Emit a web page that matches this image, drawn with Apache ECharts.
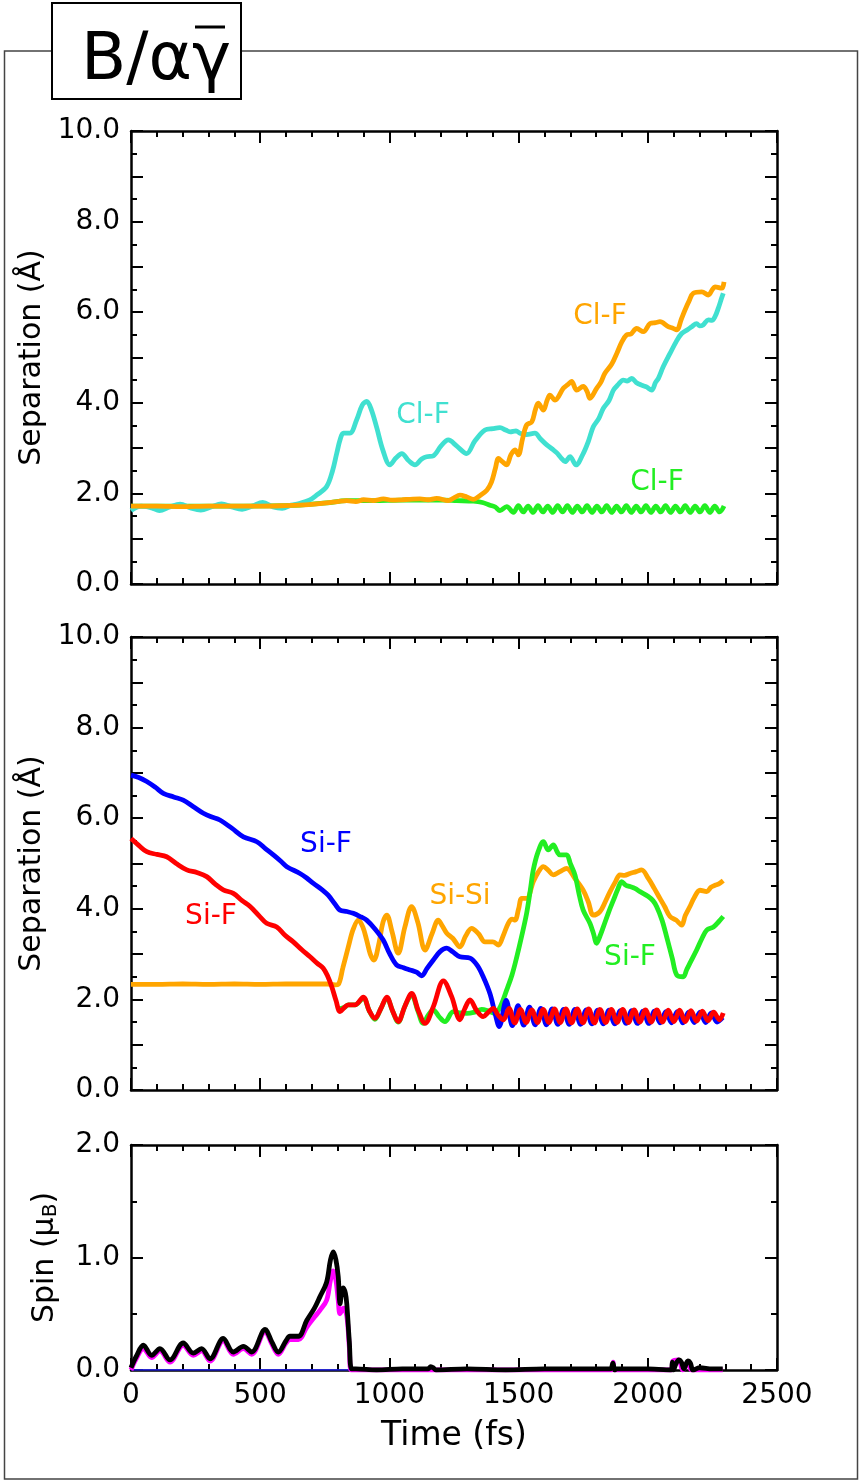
<!DOCTYPE html>
<html>
<head>
<meta charset="utf-8">
<script src="https://cdn.jsdelivr.net/npm/echarts@6/dist/echarts.min.js"></script>
<style>html,body{margin:0;padding:0;background:#fff}#c{width:864px;height:1484px}</style>
</head>
<body>
<div id="c"></div>
<script>
// ---------- data ----------
const xTickValues = [0, 500, 1000, 1500, 2000, 2500];

const clfCyan = [[0,1.62],[40,1.72],[80,1.68],[110,1.62],[150,1.70],[190,1.76],[230,1.68],[270,1.63],[310,1.70],[350,1.77],[390,1.70],[430,1.65],[470,1.72],[510,1.80],[550,1.70],[585,1.67],[620,1.74],[654,1.78],[690,1.85],[718,1.96],[757,2.15],[780,2.5],[796,2.88],[810,3.2],[822,3.33],[847,3.33],[873,3.62],[895,3.95],[912,4.03],[930,3.85],[951,3.45],[975,2.95],[1002,2.63],[1025,2.78],[1048,2.88],[1075,2.72],[1099,2.63],[1125,2.76],[1144,2.81],[1170,2.83],[1200,3.05],[1228,3.18],[1260,3.05],[1299,2.88],[1330,3.15],[1370,3.40],[1400,3.43],[1428,3.45],[1450,3.40],[1467,3.36],[1490,3.38],[1505,3.33],[1530,3.30],[1563,3.33],[1585,3.20],[1609,3.07],[1630,2.98],[1647,2.90],[1665,2.78],[1680,2.70],[1699,2.81],[1722,2.63],[1750,2.88],[1770,3.15],[1789,3.47],[1810,3.65],[1828,3.88],[1850,4.05],[1867,4.28],[1885,4.40],[1905,4.50],[1920,4.48],[1938,4.54],[1955,4.45],[1976,4.39],[1995,4.35],[2015,4.28],[2030,4.45],[2041,4.54],[2060,4.80],[2086,5.09],[2110,5.35],[2131,5.53],[2155,5.62],[2170,5.68],[2189,5.75],[2200,5.70],[2214,5.72],[2234,5.83],[2248,5.82],[2260,5.90],[2273,6.09],[2285,6.30],[2292,6.42]];

const clfOrange = [[0,1.72],[100,1.72],[200,1.71],[300,1.72],[400,1.72],[500,1.72],[600,1.73],[650,1.74],[700,1.76],[757,1.79],[800,1.82],[835,1.84],[870,1.82],[900,1.86],[938,1.84],[977,1.88],[1010,1.85],[1050,1.86],[1080,1.87],[1118,1.88],[1150,1.86],[1183,1.89],[1228,1.84],[1250,1.90],[1273,1.96],[1300,1.92],[1325,1.87],[1350,1.95],[1377,2.07],[1395,2.25],[1410,2.55],[1422,2.77],[1437,2.70],[1454,2.63],[1470,2.85],[1486,2.96],[1499,2.85],[1515,3.20],[1531,3.51],[1551,3.58],[1565,3.85],[1576,3.99],[1596,3.84],[1610,4.05],[1621,4.17],[1641,4.06],[1673,4.32],[1690,4.40],[1705,4.47],[1725,4.28],[1750,4.36],[1765,4.25],[1776,4.10],[1802,4.32],[1818,4.45],[1834,4.65],[1860,4.85],[1880,5.09],[1900,5.35],[1918,5.50],[1935,5.52],[1957,5.64],[1983,5.57],[2009,5.75],[2030,5.77],[2047,5.79],[2079,5.68],[2095,5.65],[2112,5.61],[2130,5.85],[2144,6.05],[2160,6.25],[2176,6.42],[2209,6.45],[2234,6.38],[2250,6.50],[2260,6.56],[2286,6.53],[2295,6.67]];

const clfGreen = [[0,1.72],[300,1.72],[600,1.73],[757,1.79],[835,1.84],[938,1.84],[1050,1.85],[1157,1.85],[1210,1.85],[1260,1.84],[1325,1.83],[1360,1.80],[1389,1.74],[1410,1.70],[1428,1.62],[1454,1.71],[1480,1.58],[1499,1.73],[1518,1.59],[1537,1.72],[1556,1.58],[1575,1.73],[1594,1.59],[1613,1.72],[1632,1.58],[1651,1.73],[1670,1.59],[1689,1.73],[1708,1.58],[1727,1.72],[1746,1.59],[1765,1.73],[1784,1.58],[1803,1.72],[1822,1.59],[1841,1.73],[1860,1.58],[1879,1.72],[1898,1.59],[1917,1.73],[1936,1.58],[1955,1.72],[1974,1.59],[1993,1.73],[2012,1.58],[2031,1.72],[2050,1.59],[2069,1.73],[2088,1.58],[2107,1.72],[2126,1.59],[2145,1.73],[2164,1.58],[2183,1.72],[2202,1.59],[2221,1.73],[2240,1.58],[2259,1.72],[2278,1.59],[2295,1.72]];

const sifBlue = [[0,6.95],[30,6.90],[61,6.81],[95,6.68],[125,6.55],[165,6.47],[202,6.40],[240,6.26],[280,6.11],[310,6.03],[344,5.96],[390,5.78],[435,5.59],[487,5.48],[520,5.33],[551,5.19],[580,5.05],[603,4.93],[654,4.78],[680,4.68],[706,4.56],[740,4.42],[763,4.30],[790,4.10],[809,3.97],[835,3.94],[860,3.90],[890,3.82],[912,3.75],[945,3.55],[976,3.31],[1000,3.02],[1028,2.76],[1055,2.70],[1080,2.65],[1105,2.60],[1125,2.52],[1145,2.68],[1170,2.87],[1195,3.05],[1222,3.13],[1245,3.05],[1273,2.94],[1312,2.91],[1340,2.75],[1363,2.50],[1389,2.13],[1409,1.69],[1425,1.40],[1452,1.98],[1476,1.42],[1498,1.86],[1520,1.43],[1542,1.83],[1564,1.44],[1586,1.80],[1608,1.44],[1630,1.79],[1652,1.45],[1674,1.78],[1696,1.45],[1718,1.78],[1740,1.45],[1762,1.77],[1784,1.46],[1806,1.76],[1828,1.46],[1850,1.76],[1872,1.46],[1894,1.75],[1916,1.47],[1938,1.75],[1960,1.47],[1982,1.74],[2004,1.47],[2026,1.74],[2048,1.48],[2070,1.73],[2092,1.48],[2114,1.73],[2136,1.48],[2158,1.72],[2180,1.49],[2202,1.72],[2224,1.49],[2246,1.70],[2268,1.50],[2290,1.60]];

const sifRed = [[0,5.55],[30,5.40],[61,5.26],[100,5.20],[138,5.15],[175,5.00],[216,4.86],[255,4.80],[293,4.71],[325,4.55],[357,4.42],[396,4.34],[430,4.18],[461,4.05],[495,3.85],[525,3.68],[564,3.60],[595,3.42],[628,3.27],[660,3.10],[693,2.94],[720,2.80],[744,2.69],[762,2.50],[777,2.28],[793,1.98],[809,1.73],[825,1.82],[841,1.88],[867,1.88],[899,2.05],[922,1.75],[944,1.58],[967,1.80],[990,2.05],[1012,1.75],[1034,1.51],[1060,1.85],[1086,2.13],[1112,1.75],[1138,1.47],[1170,1.84],[1209,2.41],[1241,2.06],[1273,1.55],[1292,1.80],[1312,1.99],[1338,1.75],[1363,1.62],[1383,1.72],[1402,1.80],[1421,1.65],[1441,1.55],[1463,1.80],[1485,1.48],[1507,1.78],[1529,1.49],[1551,1.77],[1573,1.49],[1595,1.78],[1617,1.49],[1639,1.79],[1661,1.49],[1683,1.79],[1705,1.48],[1727,1.79],[1749,1.48],[1771,1.79],[1793,1.48],[1815,1.78],[1837,1.49],[1859,1.78],[1881,1.49],[1903,1.78],[1925,1.49],[1947,1.77],[1969,1.50],[1991,1.77],[2013,1.50],[2035,1.77],[2057,1.50],[2079,1.76],[2101,1.51],[2123,1.76],[2145,1.51],[2167,1.75],[2189,1.52],[2211,1.74],[2233,1.53],[2255,1.72],[2277,1.55],[2292,1.70]];

const sifGreen = [[800,1.78],[825,1.82],[841,1.88],[867,1.88],[899,2.03],[922,1.75],[944,1.56],[967,1.80],[990,2.03],[1012,1.75],[1034,1.50],[1060,1.85],[1086,2.10],[1110,1.75],[1131,1.47],[1150,1.65],[1170,1.77],[1192,1.62],[1215,1.51],[1247,1.73],[1275,1.70],[1299,1.69],[1330,1.72],[1357,1.78],[1385,1.74],[1409,1.69],[1430,1.85],[1454,2.21],[1475,2.55],[1493,2.94],[1512,3.40],[1531,3.90],[1545,4.40],[1557,4.86],[1575,5.25],[1596,5.48],[1615,5.30],[1634,5.41],[1650,5.25],[1660,5.19],[1686,5.19],[1700,5.00],[1718,4.75],[1735,4.30],[1750,3.97],[1776,3.68],[1790,3.45],[1802,3.24],[1815,3.40],[1828,3.60],[1850,3.95],[1867,4.19],[1885,4.45],[1899,4.60],[1915,4.52],[1931,4.49],[1950,4.45],[1970,4.38],[2002,4.27],[2020,4.18],[2034,4.05],[2055,3.75],[2073,3.38],[2095,2.90],[2112,2.54],[2137,2.50],[2150,2.65],[2163,2.80],[2189,3.09],[2210,3.35],[2228,3.53],[2254,3.60],[2275,3.72],[2292,3.83]];

const sisiOrange = [[0,2.33],[100,2.33],[200,2.34],[300,2.33],[400,2.34],[500,2.33],[600,2.34],[700,2.34],[760,2.34],[790,2.32],[802,2.33],[820,2.70],[841,3.16],[860,3.55],[880,3.75],[897,3.60],[912,3.31],[926,3.00],[940,2.87],[960,3.25],[975,3.70],[990,3.86],[1010,3.50],[1034,3.02],[1060,3.60],[1086,4.05],[1110,3.70],[1138,3.09],[1165,3.45],[1189,3.75],[1205,3.62],[1222,3.46],[1245,3.35],[1273,3.16],[1295,3.40],[1318,3.57],[1345,3.45],[1370,3.27],[1400,3.27],[1422,3.20],[1440,3.40],[1460,3.68],[1475,3.77],[1486,3.75],[1500,4.00],[1512,4.23],[1531,4.23],[1557,4.60],[1575,4.80],[1596,4.93],[1615,4.85],[1634,4.75],[1660,4.82],[1686,4.89],[1718,4.67],[1750,4.41],[1770,4.15],[1789,3.86],[1815,3.94],[1835,4.15],[1854,4.38],[1875,4.60],[1892,4.75],[1910,4.74],[1931,4.78],[1955,4.82],[1976,4.86],[2002,4.67],[2025,4.45],[2047,4.23],[2065,4.05],[2086,3.83],[2110,3.75],[2131,3.64],[2145,3.85],[2163,4.05],[2180,4.25],[2202,4.41],[2228,4.38],[2245,4.48],[2260,4.52],[2275,4.55],[2292,4.62]];

const spinTotal = [[0,0.02],[20,0.12],[48,0.22],[80,0.13],[112,0.19],[151,0.09],[202,0.24],[241,0.15],[273,0.19],[306,0.10],[357,0.28],[396,0.16],[435,0.21],[467,0.16],[519,0.36],[545,0.25],[570,0.16],[600,0.26],[615,0.30],[648,0.30],[680,0.44],[710,0.55],[731,0.65],[757,0.78],[772,0.98],[783,1.05],[793,0.98],[802,0.83],[809,0.59],[816,0.70],[822,0.73],[830,0.68],[835,0.59],[845,0.25],[854,0.01],[870,0.01],[950,0.0],[1050,0.01],[1150,0.01],[1160,0.03],[1170,0.02],[1180,0.0],[1300,0.01],[1450,0.0],[1600,0.01],[1750,0.01],[1855,0.01],[1865,0.06],[1872,0.0],[1880,0.01],[2000,0.01],[2090,0.0],[2095,0.07],[2100,0.0],[2108,0.05],[2120,0.09],[2130,0.07],[2140,0.01],[2155,0.08],[2165,0.06],[2175,0.0],[2200,0.02],[2250,0.01],[2290,0.01]];

const spinMagenta = [[0,0.0],[20,0.10],[48,0.19],[80,0.11],[112,0.17],[151,0.07],[202,0.22],[241,0.13],[273,0.17],[306,0.08],[357,0.26],[396,0.14],[435,0.19],[467,0.14],[519,0.34],[545,0.23],[570,0.14],[600,0.24],[615,0.27],[648,0.27],[680,0.38],[710,0.47],[731,0.53],[757,0.62],[772,0.80],[783,0.88],[793,0.80],[802,0.62],[809,0.50],[822,0.55],[835,0.48],[845,0.20],[852,0.0],[1000,0.0],[1860,0.0],[1866,0.07],[1872,0.0],[2092,0.0],[2097,0.08],[2120,0.09],[2135,0.0],[2155,0.07],[2170,0.0],[2290,0.0]];

const spinBlue = [[0,0],[850,0]];

// ---------- chart ----------
const FONT = 'DejaVu Sans';
const chart = echarts.init(document.getElementById('c'));

const grids = [
  {left:131, top:131, width:646, height:453},
  {left:131, top:637, width:646, height:453},
  {left:131, top:1145, width:646, height:225}
];

const tickStyle = {color:'#000', width:2};
function xAxisDef(gi, pos, labels, name) {
  return {
    type:'value', gridIndex:gi, position:pos, min:0, max:2500, interval:500,
    axisLine:{show:true, onZero:false, lineStyle:{color:'#000', width:2.5}},
    axisTick:{show:true, inside:true, length:12, lineStyle:tickStyle},
    minorTick:{show:true, splitNumber:5, length:6, lineStyle:tickStyle},
    splitLine:{show:false},
    axisLabel:{show:labels, color:'#000', fontSize:28, fontFamily:FONT, margin:12,
      formatter: function(v){ return String(Math.round(v)); }},
    name: name || '', nameLocation:'middle', nameGap:50,
    nameTextStyle:{color:'#000', fontSize:33, fontFamily:FONT}
  };
}
function yAxisDef(gi, pos, labels, max, name, everyOther, gap) {
  return {
    type:'value', gridIndex:gi, position:pos, min:0, max:max, interval:1,
    axisLine:{show:true, onZero:false, lineStyle:{color:'#000', width:2.5}},
    axisTick:{show:true, inside:true, length:12, lineStyle:tickStyle},
    minorTick:{show:true, splitNumber:2, length:6, lineStyle:tickStyle},
    splitLine:{show:false},
    axisLabel:{show:labels, color:'#000', fontSize:28, fontFamily:FONT, margin:11,
      formatter: function(v){ if (everyOther && Math.round(v) % 2 !== 0) return ''; return v.toFixed(1); }},
    name: name || '', nameLocation:'middle', nameRotate:90, nameGap:gap || 67,
    nameTextStyle:{color:'#000', fontSize:30, fontFamily:FONT,
      rich:{sub:{fontSize:20, fontFamily:FONT, color:'#000', padding:[12,0,0,0]}, n:{fontSize:30, fontFamily:FONT, color:'#000'}}}
  };
}

const xAxes = [
  xAxisDef(0,'bottom',false), xAxisDef(1,'bottom',false), xAxisDef(2,'bottom',true,'Time (fs)'),
  xAxisDef(0,'top',false), xAxisDef(1,'top',false), xAxisDef(2,'top',false)
];
const yAxes = [
  yAxisDef(0,'left',true,10,'Separation (Å)',true),
  yAxisDef(1,'left',true,10,'Separation (Å)',true),
  yAxisDef(2,'left',true,2,'{n|Spin (μ}{sub|B}{n|)}',false,70),
  yAxisDef(0,'right',false,10,'',true),
  yAxisDef(1,'right',false,10,'',true),
  yAxisDef(2,'right',false,2,'',false)
];

function line(data, color, gi, width, z) {
  return {type:'line', data:data, xAxisIndex:gi, yAxisIndex:gi, showSymbol:false, symbol:'none',
    smooth:0.35, lineStyle:{color:color, width:width || 4.8}, z:z || 2, silent:true, clip:true};
}

const series = [
  line(clfGreen, '#22ee22', 0),
  line(clfCyan, '#40e0d0', 0),
  line(clfOrange, '#ffa500', 0),
  line(sisiOrange, '#ffa500', 1),
  line(sifGreen, '#22ee22', 1),
  line(sifBlue, '#0000ff', 1),
  line(sifRed, '#ff0000', 1),
  line(spinBlue, '#2222ff', 2, 1.5),
  line(spinMagenta, '#ff00ff', 2, 4.8),
  line(spinTotal, '#000000', 2, 4.8)
];

function label(text, x, y, color) {
  return {type:'text', z:100, style:{text:text, x:x, y:y, fill:color, font:'28px "DejaVu Sans"',
    textAlign:'center', textVerticalAlign:'middle', align:'center', verticalAlign:'middle'}};
}

const graphics = [
  {type:'rect', z:50, shape:{x:4.5, y:51, width:853, height:1428}, style:{fill:'none', stroke:'#444', lineWidth:1.5}},
  {type:'rect', z:60, shape:{x:52, y:3, width:189, height:96}, style:{fill:'#fff', stroke:'#000', lineWidth:2}},
  {type:'text', z:70, style:{text:'B/αγ', x:81, y:62, fill:'#000', font:'66px "DejaVu Sans"',
    textAlign:'left', textVerticalAlign:'middle', align:'left', verticalAlign:'middle'}},
  {type:'line', z:70, shape:{x1:195, y1:27, x2:225, y2:27}, style:{stroke:'#000', lineWidth:3}},
  label('Cl-F', 423, 416, '#40e0d0'),
  label('Cl-F', 600, 317, '#ffa500'),
  label('Cl-F', 657, 483, '#22ee22'),
  label('Si-F', 326, 845, '#0000ff'),
  label('Si-F', 211, 917, '#ff0000'),
  label('Si-Si', 460, 897, '#ffa500'),
  label('Si-F', 630, 958, '#22ee22')
];

chart.setOption({
  animation:false,
  backgroundColor:'#fff',
  grid:grids,
  xAxis:xAxes,
  yAxis:yAxes,
  series:series,
  graphic:{elements:graphics}
});
</script>
</body>
</html>
